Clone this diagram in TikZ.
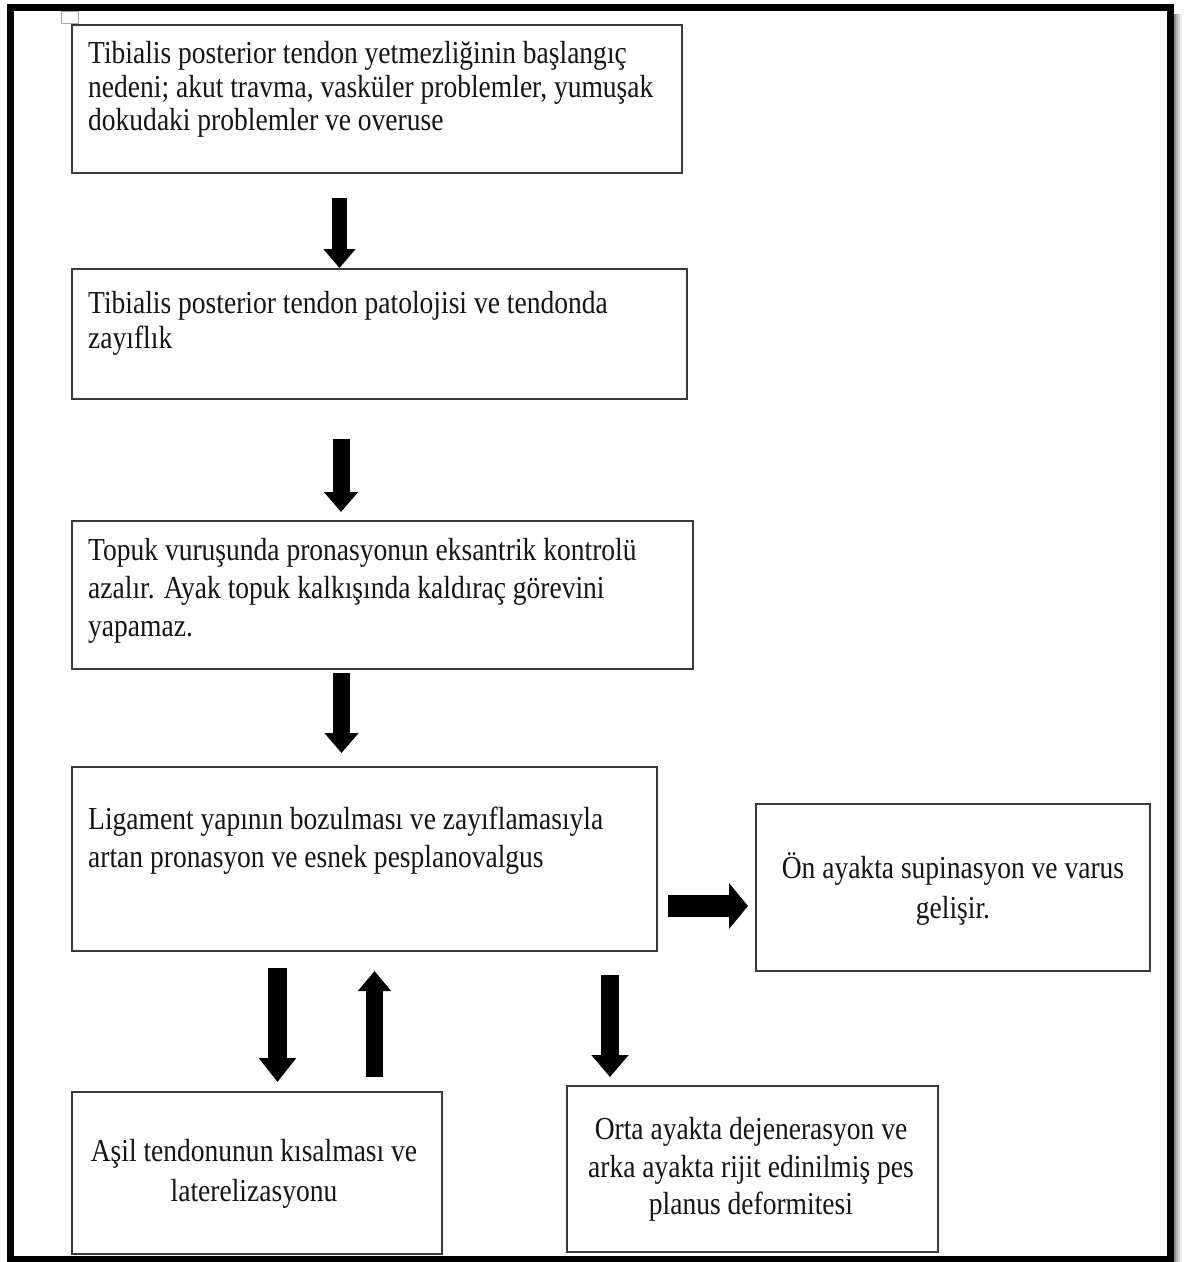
\documentclass[tikz,border=0pt]{standalone}
\usepackage{fontspec}
\setmainfont{Liberation Serif}[FakeStretch=0.86]
\usetikzlibrary{arrows.meta}
\definecolor{boxline}{HTML}{3A3A3A}
\definecolor{txt}{HTML}{151515}
\tikzset{
  box/.style={draw=boxline, line width=1.8pt, fill=white, inner sep=0pt, anchor=north west},
  ln/.style={inner sep=0pt, text=txt, font=\fontsize{32}{38}\selectfont},
  lnl/.style={ln, anchor=base west},
  lnc/.style={ln, anchor=base},
  blockarrow/.style={line width=17pt, -{Triangle[width=33pt,length=20pt]}},
}
\begin{document}
\begin{tikzpicture}[x=1pt,y=-1pt]
\useasboundingbox (0,0) rectangle (1187,1262);
\fill[white] (0,0) rectangle (1187,1262);
% shadow of the frame
\fill[black!45] (1174,14) rectangle (1176,1262);
\fill[black!30] (1176,14) rectangle (1178,1262);
\fill[black!18] (1178,14) rectangle (1180,1262);
\fill[black!8] (1180,14) rectangle (1182,1262);
% outer frame
\draw[line width=7pt] (10.5,7.5) rectangle (1170,1259);
% small anchor marker
\draw[black!35, line width=0.8pt] (61,11) rectangle (78,23);

% boxes
\node[box, minimum width=610pt, minimum height=148pt] (b1) at (71,24) {};
\node[box, minimum width=615pt, minimum height=130pt] (b2) at (71,268) {};
\node[box, minimum width=621pt, minimum height=148pt] (b3) at (71,520) {};
\node[box, minimum width=585pt, minimum height=184pt] (b4) at (71,766) {};
\node[box, minimum width=394pt, minimum height=167pt] (b5) at (755,803) {};
\node[box, minimum width=370pt, minimum height=162pt] (b6) at (71,1091) {};
\node[box, minimum width=371pt, minimum height=166pt] (b7) at (566,1085) {};

% texts
\node[lnl] (t1a) at (88,63) {Tibialis posterior tendon yetmezliğinin başlangıç};
\node[lnl] (t1b) at (88,97) {nedeni; akut travma, vasküler problemler, yumuşak};
\node[lnl] (t1c) at (88,130) {dokudaki problemler ve overuse};

\node[lnl] (t2a) at (88,313) {Tibialis posterior tendon patolojisi ve tendonda};
\node[lnl] (t2b) at (88,348) {zayıflık};

\node[lnl] (t3a) at (88,560) {Topuk vuruşunda pronasyonun eksantrik kontrolü};
\node[lnl] (t3b) at (88,598) {azalır. Ayak topuk kalkışında kaldıraç görevini};
\node[lnl] (t3c) at (88,636) {yapamaz.};

\node[lnl] (t4a) at (88,829) {Ligament yapının bozulması ve zayıflamasıyla};
\node[lnl] (t4b) at (88,867) {artan pronasyon ve esnek pesplanovalgus};

\node[lnc] (t5a) at (953,878) {Ön ayakta supinasyon ve varus};
\node[lnc] (t5b) at (953,918) {gelişir.};

\node[lnc] (t6a) at (254,1161) {Aşil tendonunun kısalması ve};
\node[lnc] (t6b) at (254,1201) {laterelizasyonu};

\node[lnc] (t7a) at (751,1139) {Orta ayakta dejenerasyon ve};
\node[lnc] (t7b) at (751,1177) {arka ayakta rijit edinilmiş pes};
\node[lnc] (t7c) at (751,1214) {planus deformitesi};

% arrow end points
\coordinate (a1s) at (339.5,198);  \coordinate (a1e) at (339.5,268);
\coordinate (a2s) at (341,439);    \coordinate (a2e) at (341,512);
\coordinate (a3s) at (341.5,673);  \coordinate (a3e) at (341.5,753);
\coordinate (a4s) at (668,906);    \coordinate (a4e) at (748,906);
\coordinate (a5s) at (277.5,968);  \coordinate (a5e) at (277.5,1082);
\coordinate (a6s) at (374.5,1077); \coordinate (a6e) at (374.5,971);
\coordinate (a7s) at (610,975);    \coordinate (a7e) at (610,1077);

\draw[blockarrow, line width=15pt, -{Triangle[width=31pt,length=19pt]}] (a1s) -- (a1e);
\draw[blockarrow] (a2s) -- (a2e);
\draw[blockarrow] (a3s) -- (a3e);
\draw[blockarrow, line width=22pt, -{Triangle[width=45pt,length=19pt]}] (a4s) -- (a4e);
\draw[blockarrow, line width=19pt, -{Triangle[width=36pt,length=24pt]}] (a5s) -- (a5e);
\draw[blockarrow, -{Triangle[width=32pt,length=20pt]}] (a6s) -- (a6e);
\draw[blockarrow, line width=18pt, -{Triangle[width=36pt,length=22pt]}] (a7s) -- (a7e);
\end{tikzpicture}
\end{document}
